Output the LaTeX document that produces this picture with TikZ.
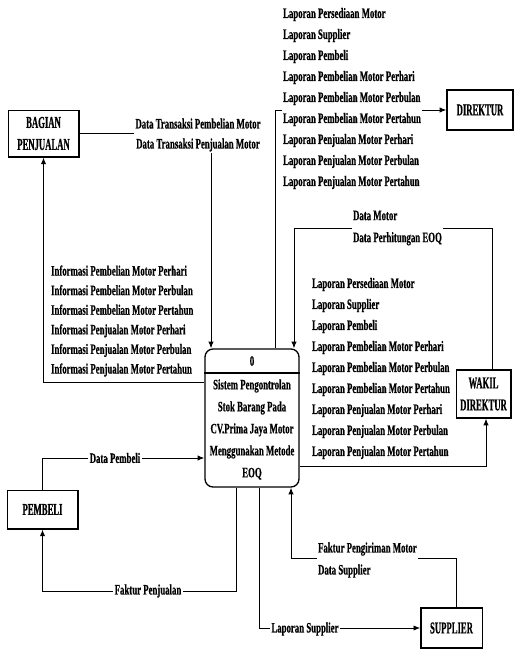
\documentclass[tikz,border=0pt]{standalone}
\usepackage{fontspec}
\usepackage{tikz}
\usetikzlibrary{arrows.meta,positioning,calc}
\newfontfamily\dfdfont{Liberation Serif Bold}[FakeStretch=0.61, FakeBold=0.5]
\newfontfamily\entfont{Liberation Serif Bold}[FakeStretch=0.52, FakeBold=0.5]

\tikzset{
    entity/.style={rectangle, draw, line width=1pt, align=center, inner sep=1pt, font=\entfont\fontsize{12.5}{16.5}\selectfont},
    flow/.style={-{Latex[length=5pt,width=4pt]}, line width=0.7pt},
    lbl/.style={font=\dfdfont\fontsize{10.8}{15.75}\selectfont, inner sep=1pt, fill=white},
    lbllist/.style={lbl, align=left, anchor=west},
}

\begin{document}
\begin{tikzpicture}[x=0.75pt, y=-0.75pt]
    \useasboundingbox (0,0) rectangle (514,650);

    \node[entity, minimum width=53pt, minimum height=35pt] (bp) at (43.5,133.5) {BAGIAN\\PENJUALAN};
    \node[entity, minimum width=49.5pt, minimum height=30pt] (dir) at (480,110) {DIREKTUR};
    \node[entity, minimum width=41pt, minimum height=36pt] (wak) at (483.5,394) {WAKIL\\DIREKTUR};
    \node[entity, minimum width=53pt, minimum height=29pt] (pem) at (42.5,509.5) {PEMBELI};
    \node[entity, minimum width=46pt, minimum height=30pt] (sup) at (451.5,628) {SUPPLIER};

    \node[rectangle, draw, line width=1pt, rounded corners=6pt, minimum width=70.5pt, minimum height=103.5pt] (proc) at (252,418) {};
    \coordinate (divy) at (0,373);
    \draw[line width=1pt] (proc.west |- divy) -- (proc.east |- divy);
    \node[font=\dfdfont\fontsize{10.8}{16.5}\selectfont] (procid) at (252,361) {0};
    \node[font=\dfdfont\fontsize{10.8}{16.5}\selectfont, align=center] (proctxt) at (252,429.5) {Sistem Pengontrolan\\Stok Barang Pada\\CV.Prima Jaya Motor\\Menggunakan Metode\\EOQ};

    \coordinate (c1) at (211,134);
    \coordinate (c2) at (275,111);
    \coordinate (c3) at (492,228);
    \coordinate (c4) at (294,228);
    \coordinate (c5) at (486,466);
    \coordinate (c6) at (43,382);
    \coordinate (c7) at (42,458);
    \coordinate (c8) at (236,591);
    \coordinate (c9) at (259,629);
    \coordinate (c10) at (456,558);
    \coordinate (c11) at (291,558);

    \draw[flow] (bp.east) -- (bp.east -| c1) -- (c1 |- proc.north);
    \draw[flow] (proc.north -| c2) |- (dir.west);
    \draw[flow] (wak.north -| c3) -- (c3) -- (c4) -- (c4 |- proc.north);
    \draw[flow] (proc.east |- c5) -- (c5) -- (c5 |- wak.south);
    \draw[flow] (proc.west |- c6) -| (bp.south);
    \draw[flow] (pem.north) |- (proc.west |- c7);
    \draw[flow] (proc.south -| c8) -- (c8) -| (pem.south);
    \draw[flow] (proc.south -| c9) |- (sup.west);
    \draw[flow] (sup.north -| c10) -- (c10) -- (c11) -- (c11 |- proc.south);

    \node[lbl, align=center, font=\dfdfont\fontsize{10.8}{15}\selectfont] (lbltrans) at (198,135) {Data Transaksi Pembelian Motor\\Data Transaksi Penjualan Motor};
    \node[lbllist] (lbldir) at (281.5,98.5) {Laporan Persediaan Motor\\Laporan Supplier\\Laporan Pembeli\\Laporan Pembelian Motor Perhari\\Laporan Pembelian Motor Perbulan\\Laporan Pembelian Motor Pertahun\\Laporan Penjualan Motor Perhari\\Laporan Penjualan Motor Perbulan\\Laporan Penjualan Motor Pertahun};
    \node[lbllist, font=\dfdfont\fontsize{10.8}{16.5}\selectfont] (lbleoq) at (351.5,228) {Data Motor\\Data Perhitungan EOQ};
    \node[lbllist, font=\dfdfont\fontsize{10.8}{14.7}\selectfont] (lblinfo) at (49.5,321) {Informasi Pembelian Motor Perhari\\Informasi Pembelian Motor Perbulan\\Informasi Pembelian Motor Pertahun\\Informasi Penjualan Motor Perhari\\Informasi Penjualan Motor Perbulan\\Informasi Penjualan Motor Pertahun};
    \node[lbllist] (lblwak) at (310.5,368.5) {Laporan Persediaan Motor\\Laporan Supplier\\Laporan Pembeli\\Laporan Pembelian Motor Perhari\\Laporan Pembelian Motor Perbulan\\Laporan Pembelian Motor Pertahun\\Laporan Penjualan Motor Perhari\\Laporan Penjualan Motor Perbulan\\Laporan Penjualan Motor Pertahun};
    \node[lbl] (lblpem) at (115,458) {Data Pembeli};
    \node[lbl] (lblfak) at (148,591) {Faktur Penjualan};
    \node[lbl] (lblsup) at (305,629) {Laporan Supplier};
    \node[lbllist, font=\dfdfont\fontsize{10.8}{16.5}\selectfont] (lblkirim) at (316.5,560) {Faktur Pengiriman Motor\\Data Supplier};
\end{tikzpicture}
\end{document}
